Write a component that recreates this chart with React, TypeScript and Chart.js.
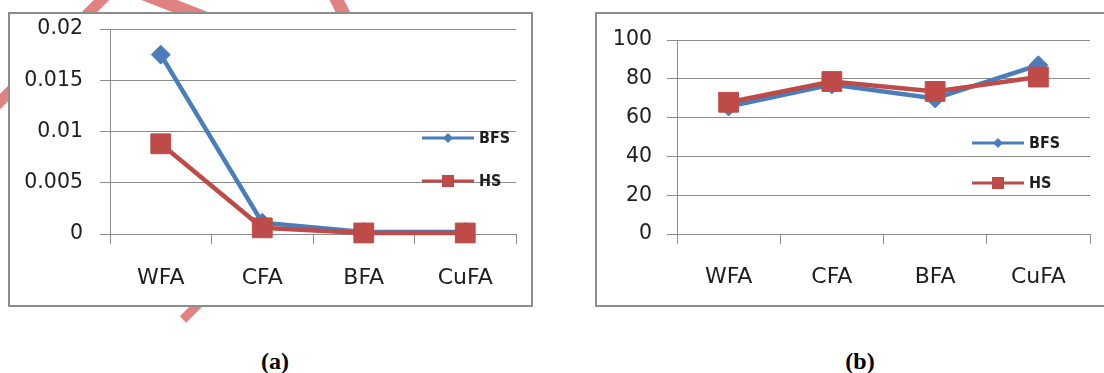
import React, { useEffect, useRef } from 'react';
import { Chart, registerables } from 'chart.js';

Chart.register(...registerables);

// ---- data ----
const categories = ['WFA', 'CFA', 'BFA', 'CuFA'];
const seriesNames = ['BFS', 'HS'];
const timeBFS = [0.0175, 0.0011, 0.0002, 0.0002];
const timeHS = [0.0088, 0.0006, 0.0001, 0.0001];
const accBFS = [65.7, 77.1, 69.9, 87.0];
const accHS = [67.9, 78.6, 73.5, 80.9];
const timeTickLabels = ['0', '0.005', '0.01', '0.015', '0.02'];
const accTickLabels = ['0', '20', '40', '60', '80', '100'];
const captions = ['(a)', '(b)'];

const BLUE = '#4A7EBB';
const RED = '#BE4B48';
const GRID = '#8c8c8c';
const TEXT = '#1e1e1e';

const lineLegend = {
  id: 'lineLegend',
  afterDatasetsDraw(chart: any, _args: any, opts: any) {
    const ctx = chart.ctx;
    chart.data.datasets.forEach((ds: any, i: number) => {
      const y = opts.y + i * opts.gap;
      ctx.save();
      ctx.strokeStyle = ds.borderColor;
      ctx.lineWidth = 3;
      ctx.beginPath();
      ctx.moveTo(opts.x, y);
      ctx.lineTo(opts.x + opts.len, y);
      ctx.stroke();
      const cx = opts.x + opts.len / 2;
      ctx.fillStyle = ds.backgroundColor;
      ctx.beginPath();
      if (ds.pointStyle === 'rectRot') {
        const r = 5;
        ctx.moveTo(cx, y - r);
        ctx.lineTo(cx + r, y);
        ctx.lineTo(cx, y + r);
        ctx.lineTo(cx - r, y);
        ctx.closePath();
      } else {
        ctx.rect(cx - 6, y - 6, 12, 12);
      }
      ctx.fill();
      ctx.fillStyle = TEXT;
      ctx.font = 'bold 16px "DejaVu Sans Condensed", "Liberation Sans Narrow", sans-serif';
      ctx.textBaseline = 'middle';
      ctx.textAlign = 'left';
      ctx.fillText(ds.label, opts.x + opts.len + 5, y + 1);
      ctx.restore();
    });
  },
};

type Cfg = {
  width: number;
  height: number;
  b: number[];
  h: number[];
  min: number;
  max: number;
  step: number;
  tickLabels: string[];
  yWidth: number;
  xHeight: number;
  padTop: number;
  padRight: number;
  yPad: number;
  xPad: number;
  legend: { x: number; y: number; gap: number; len: number };
};

function LineChart({ cfg }: { cfg: Cfg }) {
  const ref = useRef<HTMLCanvasElement | null>(null);
  useEffect(() => {
    if (!ref.current) return;
    const ds = (label: string, data: number[], color: string, style: string, r: number, order: number) => ({
      label,
      data,
      order,
      borderColor: color,
      backgroundColor: color,
      pointBackgroundColor: color,
      pointBorderColor: color,
      borderWidth: 4.5,
      pointStyle: style,
      pointRadius: r,
      pointBorderWidth: 1,
      tension: 0,
      clip: false,
    });
    const chart = new Chart(ref.current, {
      type: 'line',
      data: {
        labels: categories,
        datasets: [
          ds(seriesNames[0], cfg.b, BLUE, 'rectRot', 9.5, 2),
          ds(seriesNames[1], cfg.h, RED, 'rect', 14, 1),
        ] as any,
      },
      options: {
        responsive: false,
        animation: false,
        devicePixelRatio: 1,
        layout: { padding: { top: cfg.padTop, right: cfg.padRight, left: 0, bottom: 0 } },
        plugins: {
          legend: { display: false },
          tooltip: { enabled: false },
          lineLegend: cfg.legend,
        } as any,
        scales: {
          x: {
            offset: true,
            grid: { offset: true, drawOnChartArea: false, drawTicks: true, tickLength: 10, color: GRID },
            border: { display: true, color: GRID },
            ticks: { color: TEXT, padding: cfg.xPad, font: { family: '"DejaVu Sans"', size: 22 } },
            afterFit: (s: any) => {
              s.height = cfg.xHeight;
            },
          },
          y: {
            min: cfg.min,
            max: cfg.max,
            ticks: {
              stepSize: cfg.step,
              color: TEXT,
              padding: cfg.yPad,
              font: { family: '"DejaVu Sans"', size: 20.5 },
              callback: (_v: any, i: number) => cfg.tickLabels[i],
            },
            grid: { color: GRID, tickLength: 10 },
            border: { color: GRID },
            afterFit: (s: any) => {
              s.width = cfg.yWidth;
              s.paddingTop = 0;
              s.paddingBottom = 0;
            },
          },
        },
      } as any,
      plugins: [lineLegend],
    });
    return () => chart.destroy();
  }, []);
  return <canvas ref={ref} width={cfg.width} height={cfg.height} style={{ display: 'block' }} />;
}

function Band({ x1, y1, x2, y2, w }: { x1: number; y1: number; x2: number; y2: number; w: number }) {
  const dx = x2 - x1;
  const dy = y2 - y1;
  const len = Math.sqrt(dx * dx + dy * dy);
  const ang = (Math.atan2(dy, dx) * 180) / Math.PI;
  return (
    <div
      style={{
        position: 'absolute',
        left: x1,
        top: y1 - w / 2,
        width: len,
        height: w,
        background: '#E08282',
        transformOrigin: `0 ${w / 2}px`,
        transform: `rotate(${ang}deg)`,
        zIndex: 0,
      }}
    />
  );
}

const leftCfg: Cfg = {
  width: 521,
  height: 291,
  b: timeBFS,
  h: timeHS,
  min: 0,
  max: 0.02,
  step: 0.005,
  tickLabels: timeTickLabels,
  yWidth: 100,
  xHeight: 71,
  padTop: 13,
  padRight: 10,
  yPad: 17,
  xPad: 21,
  legend: { x: 412, y: 124, gap: 43, len: 52 },
};

const rightCfg: Cfg = {
  width: 520,
  height: 291,
  b: accBFS,
  h: accHS,
  min: 0,
  max: 100,
  step: 20,
  tickLabels: accTickLabels,
  yWidth: 80,
  xHeight: 71,
  padTop: 26,
  padRight: 27,
  yPad: 15,
  xPad: 20,
  legend: { x: 375, y: 129, gap: 40, len: 52 },
};

const boxStyle = (left: number): React.CSSProperties => ({
  position: 'absolute',
  left,
  top: 12,
  width: 521,
  height: 291,
  border: `2px solid ${GRID}`,
  background: '#fff',
  zIndex: 1,
});

const capStyle = (cx: number): React.CSSProperties => ({
  position: 'absolute',
  left: cx - 40,
  width: 80,
  top: 347,
  textAlign: 'center',
  fontFamily: '"Liberation Serif", "Times New Roman", serif',
  fontWeight: 'bold',
  fontSize: 24,
  lineHeight: '28px',
  color: '#000',
});

export default function App() {
  return (
    <div
      style={{
        position: 'absolute',
        left: 0,
        top: 0,
        width: 1104,
        height: 373,
        overflow: 'hidden',
        background: '#fff',
      }}
    >
      <Band x1={-12} y1={113} x2={112} y2={-11} w={11} />
      <Band x1={140} y1={-8} x2={240} y2={31} w={13} />
      <Band x1={333} y1={-8} x2={350} y2={26} w={13} />
      <Band x1={183} y1={319} x2={240} y2={262} w={9} />
      <div style={boxStyle(8)}>
        <LineChart cfg={leftCfg} />
      </div>
      <div style={{ ...boxStyle(595), width: 530 }}>
        <LineChart cfg={rightCfg} />
      </div>
      <div style={capStyle(275)}>{captions[0]}</div>
      <div style={capStyle(860)}>{captions[1]}</div>
    </div>
  );
}
